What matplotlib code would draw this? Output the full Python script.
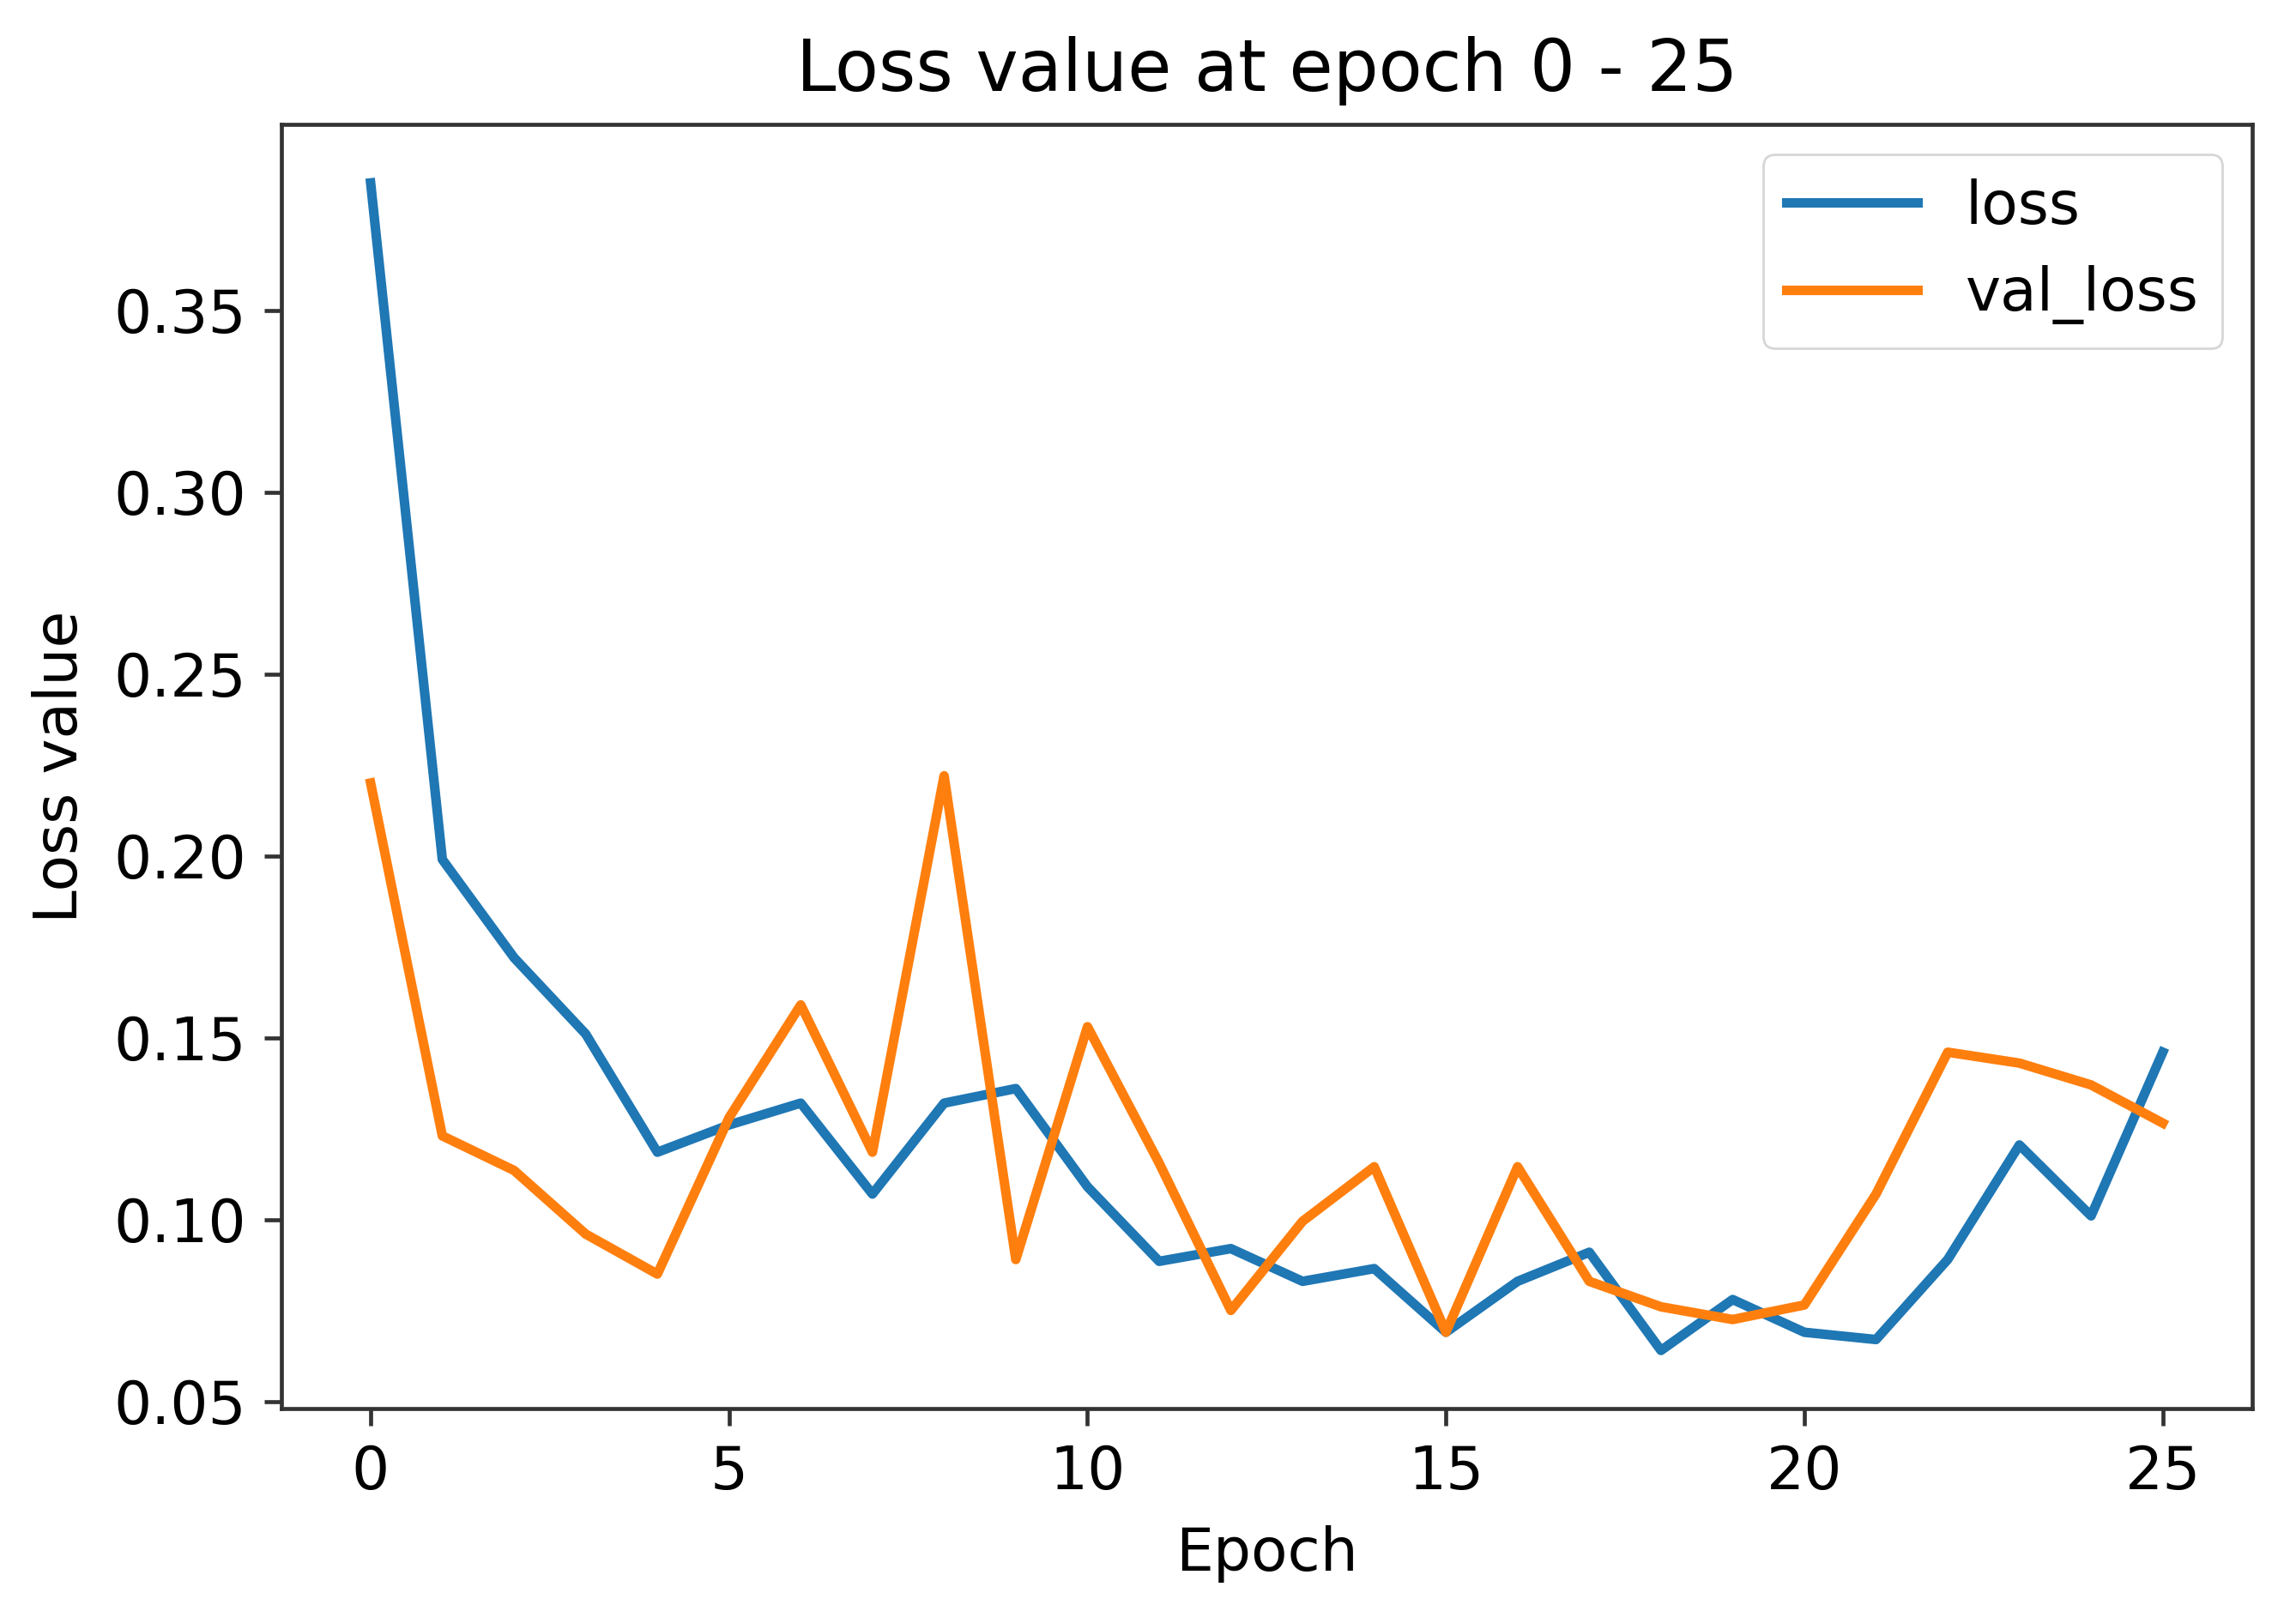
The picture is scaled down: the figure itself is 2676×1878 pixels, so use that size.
import numpy as np
import matplotlib
matplotlib.use("Agg")
import matplotlib.pyplot as plt

epochs = np.arange(26)
loss = [0.385, 0.199, 0.172, 0.151, 0.1185, 0.126, 0.132, 0.107, 0.132, 0.136,
        0.109, 0.0885, 0.092, 0.083, 0.0865, 0.069, 0.083, 0.091, 0.064, 0.078,
        0.069, 0.067, 0.089, 0.1205, 0.101, 0.146]
val_loss = [0.220, 0.123, 0.1135, 0.096, 0.085, 0.128, 0.159, 0.1185, 0.222, 0.089,
            0.153, 0.1155, 0.075, 0.0995, 0.1145, 0.069, 0.1145, 0.083, 0.076, 0.0725,
            0.0765, 0.107, 0.146, 0.143, 0.137, 0.1265]

s = 2.1
fs = 25
plt.rcParams['font.size'] = fs

fig = plt.figure(figsize=(13.38, 9.39), dpi=200)
ax = fig.add_axes([0.1224, 0.1255, 0.8586, 0.7972])
ax.plot(epochs, loss, label='loss', lw=4)
ax.plot(epochs, val_loss, label='val_loss', lw=4)
ax.set_title('Loss value at epoch 0 - 25', fontsize=30, pad=14)
ax.set_xlabel('Epoch', fontsize=fs, labelpad=10)
ax.set_ylabel('Loss value', fontsize=fs, labelpad=10)
ax.set_yticks([0.05, 0.10, 0.15, 0.20, 0.25, 0.30, 0.35])
ax.set_xticks([0, 5, 10, 15, 20, 25])
ax.tick_params(labelsize=fs, width=0.8 * s, length=3.5 * s, pad=3.5 * s, color='#333333')
for sp in ax.spines.values():
    sp.set_linewidth(0.8 * s)
    sp.set_color('#333333')
ax.legend(loc='upper right', fontsize=fs, handlelength=2.2, borderpad=0.4,
          borderaxespad=0.5, labelspacing=0.5)

fig.savefig('out.png', dpi=200)
